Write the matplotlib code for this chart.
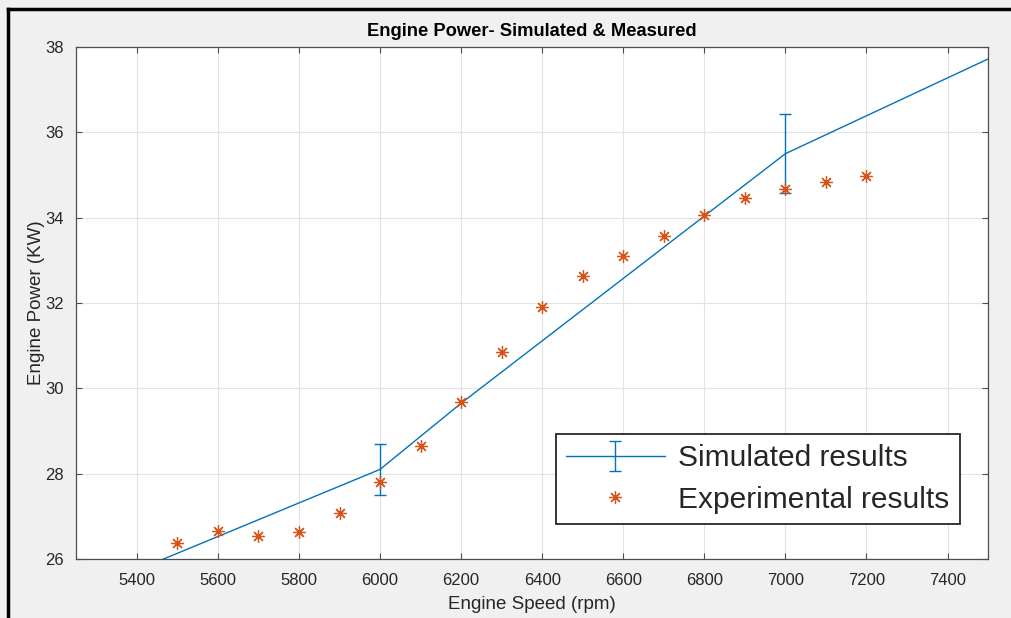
import numpy as np
import matplotlib
matplotlib.use("Agg")
import matplotlib.pyplot as plt
from matplotlib.lines import Line2D

# ===============================
# DATA
# ===============================
sim_speed = [5250, 6000, 6200, 7000, 7500]
sim_power = [25.15, 28.1, 29.65, 35.5, 37.72]
sim_err = [0.0, 0.6, 0.0, 0.93, 0.0]
sim_has_err = [False, True, False, True, False]

exp_speed = [5500, 5600, 5700, 5800, 5900, 6000, 6100, 6200, 6300,
             6400, 6500, 6600, 6700, 6800, 6900, 7000, 7100, 7200]
exp_power = [26.37, 26.65, 26.55, 26.63, 27.08, 27.8, 28.65, 29.68, 30.85,
             31.9, 32.63, 33.1, 33.57, 34.07, 34.45, 34.68, 34.83, 34.98]

x_ticks = list(range(5400, 7401, 200))
y_ticks = list(range(26, 39, 2))

BLUE = "#0072BD"
ORANGE = "#D95319"
TXT = "#262626"

plt.rcParams["font.family"] = ["Liberation Sans", "DejaVu Sans"]

# ===============================
# PLOT
# ===============================
fig = plt.figure(figsize=(10.11, 6.18), dpi=100, facecolor="#f0f0f0")
ax = fig.add_axes([0.0752, 0.0955, 0.9021, 0.8284])
ax.set_facecolor("white")

sim = ax.errorbar(sim_speed, sim_power, yerr=sim_err, errorevery=sim_has_err,
                  color=BLUE, lw=1.0, elinewidth=1.0, capsize=4, capthick=1.0,
                  label="Simulated results", zorder=3)
exp, = ax.plot(exp_speed, exp_power, linestyle="none", marker=(8, 2, 0), markersize=9,
               markeredgewidth=0.9, color=ORANGE, label="Experimental results", zorder=4)

ax.set_xlim(5250, 7500)
ax.set_ylim(26, 38)
ax.set_xticks(x_ticks)
ax.set_yticks(y_ticks)
ax.grid(True, color="#e3e3e3", lw=0.8)
ax.set_axisbelow(True)
ax.tick_params(direction="in", top=True, right=True, length=4, width=0.8,
               colors="#4d4d4d", labelcolor=TXT, labelsize=12)
ax.tick_params(axis="x", pad=10)
ax.tick_params(axis="y", pad=9)
for s in ax.spines.values():
    s.set_color("#4d4d4d")
    s.set_linewidth(0.9)

ax.set_title("Engine Power- Simulated & Measured", fontsize=13.2, fontweight="bold",
             color="black", pad=8)
ax.set_xlabel("Engine Speed (rpm)", fontsize=13.5, color=TXT, labelpad=6)
ax.set_ylabel("Engine Power (KW)", fontsize=13.5, color=TXT, labelpad=0)

leg = ax.legend(handles=[sim, exp], loc="lower right", bbox_to_anchor=(0.969, 0.068),
                borderaxespad=0, fontsize=21.5, handlelength=3.3, fancybox=False,
                framealpha=1, edgecolor="#262626", borderpad=0.35, labelspacing=0.45,
                handletextpad=0.45)
leg.get_frame().set_linewidth(1.3)
for t in leg.get_texts():
    t.set_color(TXT)

# black screenshot frame on top and left
fig.add_artist(Line2D([0.008, 1.0], [0.985, 0.985], color="black", lw=2.5,
                      transform=fig.transFigure))
fig.add_artist(Line2D([0.008, 0.008], [0.0, 0.985], color="black", lw=2.5,
                      transform=fig.transFigure))

fig.savefig("out.png", dpi=100, facecolor=fig.get_facecolor())
